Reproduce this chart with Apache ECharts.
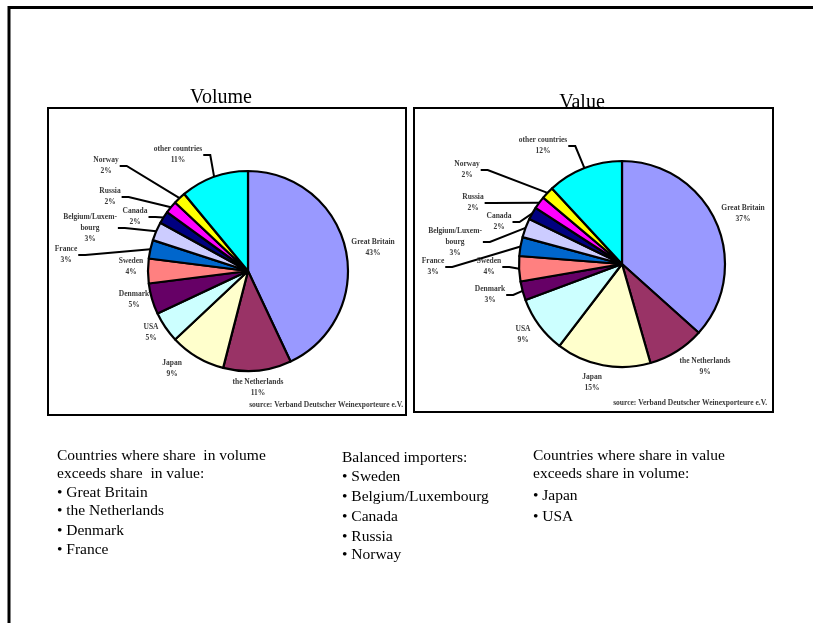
<!DOCTYPE html>
<html>
<head>
<meta charset="utf-8">
<title>German wine exports by country: volume and value shares</title>
<script src="https://cdn.jsdelivr.net/npm/echarts/dist/echarts.min.js"></script>
<style>
  html, body { margin: 0; padding: 0; background: #ffffff; }
  #chart { width: 813px; height: 623px; }
</style>
</head>
<body>
<div id="chart"></div>
<script>
// Export destinations, clockwise from 12 o'clock
const countries = ['Great Britain', 'the Netherlands', 'Japan', 'USA', 'Denmark', 'Sweden',
  'France', 'Belgium/Luxembourg', 'Canada', 'Russia', 'Norway', 'other countries'];
const labelNames = ['Great Britain', 'the Netherlands', 'Japan', 'USA', 'Denmark', 'Sweden',
  'France', 'Belgium/Luxem-\nbourg', 'Canada', 'Russia', 'Norway', 'other countries'];

// Share of exports in percent
const volumeShare = [43, 11, 9, 5, 5, 4, 3, 3, 2, 2, 2, 11];
const valueShare = [37, 9, 15, 9, 3, 4, 3, 3, 2, 2, 2, 12];

const sliceColors = ['#9999FF', '#993366', '#FFFFCC', '#CCFFFF', '#660066', '#FF8080',
  '#0066CC', '#CCCCFF', '#000080', '#FF00FF', '#FFFF00', '#00FFFF'];

const sourceNote = 'source: Verband Deutscher Weinexporteure e.V.';

// Text blocks under the charts
const volumeNotes = ['Countries where share  in volume', 'exceeds share  in value:',
  '\u2022 Great Britain', '\u2022 the Netherlands', '\u2022 Denmark', '\u2022 France'];
const balancedNotes = ['Balanced importers:', '\u2022 Sweden', '\u2022 Belgium/Luxembourg',
  '\u2022 Canada', '\u2022 Russia', '\u2022 Norway'];
const valueNotes = ['Countries where share in value', 'exceeds share in volume:',
  '\u2022 Japan', '\u2022 USA'];

// ---- layout ----
const volumeCenter = [248, 271], volumeRadius = 100;
const valueCenter = [622, 264], valueRadius = 103;

// label block centres, one per slice
const volumeLabelPos = [[373, 248], [258, 388], [172, 369], [151, 333], [134, 300], [131, 267],
  [66, 255], [90, 228], [135, 217], [110, 197], [106, 166], [178, 155]];
const valueLabelPos = [[743, 214], [705, 367], [592, 383], [523, 335], [490, 295], [489, 267],
  [433, 267], [455, 242], [499, 222], [473, 203], [467, 170], [543, 146]];
// slices whose labels get a leader line
const volumeLeaders = [6, 7, 8, 9, 10, 11];
const valueLeaders = [4, 5, 6, 7, 8, 9, 10, 11];

const noteBlocks = [
  { lines: volumeNotes, x: 57, ys: [456, 474, 493, 511, 531, 550] },
  { lines: balancedNotes, x: 342, ys: [458, 477, 497, 517, 537, 555] },
  { lines: valueNotes, x: 533, ys: [456, 474, 496, 517] }
];

const serif = '"Liberation Serif", "Times New Roman", serif';

function buildData(values, leaders) {
  return values.map(function (v, i) {
    return {
      name: countries[i],
      value: v,
      itemStyle: { color: sliceColors[i] },
      labelLine: { show: leaders.indexOf(i) >= 0 }
    };
  });
}

// Place each label at its block centre; leader runs from the slice edge
// to a short horizontal stub beside the label.
function makeLabelLayout(pos, center) {
  return function (params) {
    const p = pos[params.dataIndex];
    const out = { x: p[0], y: p[1], align: 'center', verticalAlign: 'middle' };
    const pts = params.labelLinePoints;
    if (pts && pts.length) {
      const w = params.labelRect.width;
      const dir = p[0] < center[0] ? 1 : -1;
      const endX = p[0] + dir * (w / 2 + 1);
      out.labelLinePoints = [pts[0], [endX + dir * 7, p[1]], [endX, p[1]]];
    }
    return out;
  };
}

function pieSeries(values, center, radius, leaders, labelPos) {
  return {
    type: 'pie',
    center: center,
    radius: radius,
    startAngle: 90,
    clockwise: true,
    avoidLabelOverlap: false,
    animation: false,
    silent: true,
    itemStyle: { borderColor: '#000', borderWidth: 2.2 },
    label: {
      show: true,
      position: 'outside',
      formatter: function (p) { return labelNames[p.dataIndex] + '\n' + p.value + '%'; },
      fontFamily: serif,
      fontSize: 7.5,
      fontWeight: 'bold',
      color: '#3a3a3a',
      lineHeight: 11,
      align: 'center'
    },
    labelLine: { show: true, length: 10, length2: 8, lineStyle: { color: '#000', width: 2 } },
    labelLayout: makeLabelLayout(labelPos, center),
    data: buildData(values, leaders)
  };
}

const graphics = [
  // page frame
  { type: 'polyline', shape: { points: [[9, 623], [9, 7.5], [813, 7.5]] },
    style: { stroke: '#000', lineWidth: 3, fill: 'none' }, silent: true },
  // chart boxes
  { type: 'rect', shape: { x: 48, y: 108, width: 358, height: 307 },
    style: { stroke: '#000', lineWidth: 2, fill: 'none' }, z: 10, silent: true },
  { type: 'rect', shape: { x: 414, y: 108, width: 359, height: 304 },
    style: { stroke: '#000', lineWidth: 2, fill: 'none' }, z: 10, silent: true },
  // titles
  { type: 'text', x: 221, y: 98, silent: true,
    style: { text: 'Volume', font: '20px ' + serif, fill: '#000', align: 'center', verticalAlign: 'middle' } },
  { type: 'text', x: 582, y: 102.5, silent: true,
    style: { text: 'Value', font: '20px ' + serif, fill: '#000', align: 'center', verticalAlign: 'middle' } },
  // source notes
  { type: 'text', x: 403, y: 405, silent: true,
    style: { text: sourceNote, font: 'bold 7.5px ' + serif, fill: '#3a3a3a', align: 'right', verticalAlign: 'middle' } },
  { type: 'text', x: 767, y: 403, silent: true,
    style: { text: sourceNote, font: 'bold 7.5px ' + serif, fill: '#3a3a3a', align: 'right', verticalAlign: 'middle' } }
];

noteBlocks.forEach(function (block) {
  block.lines.forEach(function (line, i) {
    graphics.push({
      type: 'text', x: block.x, y: block.ys[i], silent: true,
      style: { text: line, font: '15.5px ' + serif, fill: '#000', align: 'left', verticalAlign: 'middle' }
    });
  });
});

const chart = echarts.init(document.getElementById('chart'), null, { renderer: 'canvas' });
chart.setOption({
  backgroundColor: '#ffffff',
  animation: false,
  series: [
    pieSeries(volumeShare, volumeCenter, volumeRadius, volumeLeaders, volumeLabelPos),
    pieSeries(valueShare, valueCenter, valueRadius, valueLeaders, valueLabelPos)
  ],
  graphic: graphics
});
</script>
</body>
</html>
